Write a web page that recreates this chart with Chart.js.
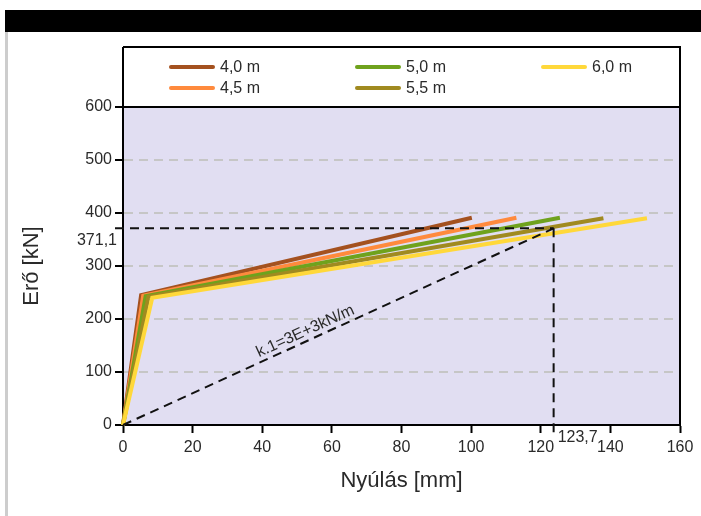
<!DOCTYPE html>
<html>
<head>
<meta charset="utf-8">
<script src="https://cdn.jsdelivr.net/npm/chart.js@4/dist/chart.umd.min.js"></script>
<style>
html,body{margin:0;padding:0;background:#fff;}
#wrap{width:701px;height:516px;position:relative;}
</style>
</head>
<body>
<div id="wrap"><canvas id="c" width="701" height="516"></canvas></div>
<script>
// ---- data ----
const seriesLabels = ['4,0 m', '4,5 m', '5,0 m', '5,5 m', '6,0 m'];
const seriesColors = ['#a4511f', '#ff8a3d', '#6fa21d', '#a08a20', '#ffd83a'];

const defl40 = [0, 5.2, 100.2];
const force40 = [0, 245, 391];
const defl45 = [0, 5.8, 113.0];
const force45 = [0, 244, 391];
const defl50 = [0, 6.5, 125.5];
const force50 = [0, 243, 391];
const defl55 = [0, 7.3, 138.0];
const force55 = [0, 242, 390];
const defl60 = [0, 8.4, 150.5];
const force60 = [0, 240, 390];

const refDefl = 123.7;     // mm
const refForce = 371.1;    // kN
const refDeflLabel = '123,7';
const refForceLabel = '371,1';
const kLabel = 'k.1=3E+3kN/m';

const xMin = 0, xMax = 160, xStep = 20;
const yMin = 0, yMax = 600, yStep = 100;
const xTitle = 'Nyúlás [mm]';
const yTitle = 'Erő [kN]';

const seriesDefl = [defl40, defl45, defl50, defl55, defl60];
const seriesForce = [force40, force45, force50, force55, force60];

const FONT = "'Liberation Sans', Arial, sans-serif";
const TXT = '#2a2a2a';

function pts(xs, ys) { return xs.map((x, i) => ({x: x, y: ys[i]})); }

const datasets = seriesLabels.map((lab, i) => ({
  label: lab,
  data: pts(seriesDefl[i], seriesForce[i]),
  borderColor: seriesColors[i],
  backgroundColor: seriesColors[i],
  borderWidth: 4,
  pointRadius: 0,
  tension: 0,
  fill: false,
  clip: false,
  order: seriesLabels.length - i
}));
datasets.push({
  label: 'k',
  data: pts([0, refDefl], [0, refForce]),
  borderColor: '#111',
  borderWidth: 2,
  borderDash: [9, 6],
  pointRadius: 0,
  fill: false,
  clip: false,
  order: 0
});

const decor = {
  id: 'decor',
  beforeDraw(chart) {
    const {ctx, chartArea: a} = chart;
    ctx.save();
    ctx.fillStyle = '#fff';
    ctx.fillRect(0, 0, chart.width, chart.height);
    ctx.fillStyle = '#000';
    ctx.fillRect(5, 10, chart.width - 5, 22);
    ctx.fillStyle = '#cdcdcd';
    ctx.fillRect(5, 32, 3, chart.height - 32);
    ctx.fillStyle = '#e1def2';
    ctx.fillRect(a.left, a.top, a.right - a.left, a.bottom - a.top);
    ctx.restore();
  },
  afterDraw(chart) {
    const {ctx, chartArea: a, scales} = chart;
    const xs = scales.x, ys = scales.y;
    const px = xs.getPixelForValue(refDefl);
    const py = ys.getPixelForValue(refForce);
    ctx.save();
    // reference guide lines
    ctx.strokeStyle = '#111';
    ctx.lineWidth = 2;
    ctx.setLineDash([9, 6]);
    ctx.beginPath();
    ctx.moveTo(a.left - 8, py);
    ctx.lineTo(px, py);
    ctx.stroke();
    ctx.beginPath();
    ctx.moveTo(px, py);
    ctx.lineTo(px, a.bottom + 8);
    ctx.stroke();
    ctx.setLineDash([]);
    // reference labels
    ctx.fillStyle = TXT;
    ctx.font = '16px ' + FONT;
    ctx.textAlign = 'right';
    ctx.textBaseline = 'middle';
    ctx.fillText(refForceLabel, a.left - 6, py + 12);
    ctx.textAlign = 'left';
    ctx.fillText(refDeflLabel, px + 4, a.bottom + 13);
    // k label along the dashed line
    const mx = 53.5;
    const x0 = xs.getPixelForValue(0), y0 = ys.getPixelForValue(0);
    const ang = Math.atan2(py - y0, px - x0);
    const lx = xs.getPixelForValue(mx), ly = ys.getPixelForValue(mx * refForce / refDefl);
    ctx.translate(lx, ly);
    ctx.rotate(ang);
    ctx.textAlign = 'center';
    ctx.textBaseline = 'alphabetic';
    ctx.fillText(kLabel, 0, -5);
    ctx.restore();

    // frame: legend box, top and right borders
    ctx.save();
    ctx.strokeStyle = '#000';
    ctx.lineWidth = 2;
    ctx.beginPath();
    ctx.moveTo(a.left, 47);
    ctx.lineTo(a.right, 47);
    ctx.lineTo(a.right, a.bottom);
    ctx.moveTo(a.left, 47);
    ctx.lineTo(a.left, a.top);
    ctx.moveTo(a.left, a.top);
    ctx.lineTo(a.right, a.top);
    ctx.stroke();
    // legend (2 rows, column-major)
    const colX = [171, 357, 543];
    const rowY = [67, 88];
    ctx.font = '16px ' + FONT;
    ctx.textAlign = 'left';
    ctx.textBaseline = 'middle';
    chart.data.datasets.forEach((ds, i) => {
      if (i >= seriesLabels.length) return;
      const cx = colX[Math.floor(i / 2)], cy = rowY[i % 2];
      ctx.strokeStyle = ds.borderColor;
      ctx.lineWidth = 4;
      ctx.lineCap = 'round';
      ctx.beginPath();
      ctx.moveTo(cx, cy);
      ctx.lineTo(cx + 42, cy);
      ctx.stroke();
      ctx.fillStyle = TXT;
      ctx.fillText(ds.label, cx + 49, cy + 1);
    });
    ctx.restore();
  }
};

new Chart(document.getElementById('c'), {
  type: 'line',
  data: {datasets: datasets},
  plugins: [decor],
  options: {
    responsive: false,
    animation: false,
    devicePixelRatio: 1,
    layout: {padding: {left: 0, top: 107, right: 21, bottom: 0}},
    plugins: {legend: {display: false}, title: {display: false}, tooltip: {enabled: false}},
    scales: {
      x: {
        type: 'linear',
        min: xMin, max: xMax,
        ticks: {stepSize: xStep, color: TXT, font: {family: FONT, size: 16}, padding: 5, maxRotation: 0},
        grid: {drawOnChartArea: false, tickLength: 8, tickWidth: 2, tickColor: '#000'},
        border: {color: '#000', width: 2},
        title: {display: true, text: xTitle, color: TXT, font: {family: FONT, size: 22}, padding: {top: 0, bottom: 22}},
        afterFit(s) { s.height = 91; }
      },
      y: {
        type: 'linear',
        min: yMin, max: yMax,
        ticks: {stepSize: yStep, color: TXT, font: {family: FONT, size: 16}, padding: 3},
        grid: {
          color: (c) => (c.tick && (c.tick.value === yMin || c.tick.value === yMax)) ? 'rgba(0,0,0,0)' : '#c6c6c6',
          lineWidth: 2, tickLength: 8, tickWidth: 2, tickColor: '#000', tickBorderDash: []
        },
        border: {color: '#000', width: 2, dash: [9, 6]},
        title: {display: true, text: yTitle, color: TXT, font: {family: FONT, size: 22}, padding: {top: 19, bottom: 0}},
        afterFit(s) { s.width = 123; }
      }
    }
  }
});
</script>
</body>
</html>
